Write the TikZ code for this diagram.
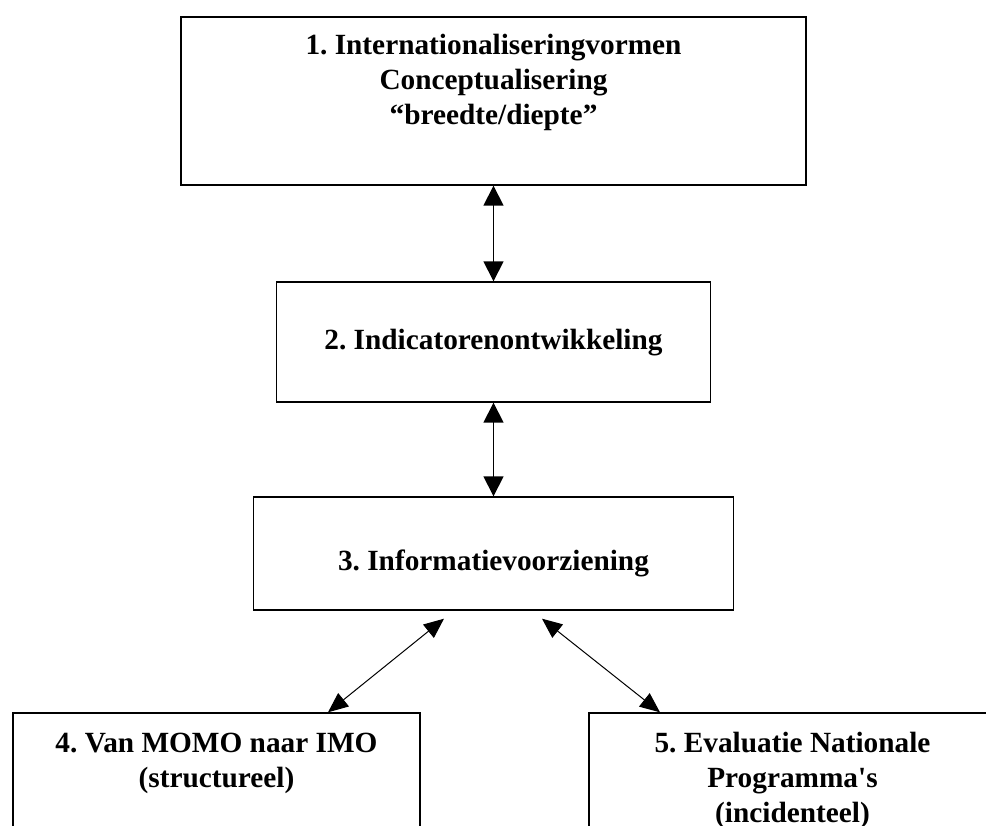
\documentclass[tikz,border=0pt]{standalone}
\usepackage{fontspec}
\setmainfont{Liberation Serif}[Ligatures=TeXOff]
\usetikzlibrary{arrows.meta}
\newcommand{\stagetext}[4]{\parbox[c][#2][t]{#1}{\centering\frenchspacing\rule{0pt}{#3}#4}}

\begin{document}
\begin{tikzpicture}[x=1pt,y=-1pt,
    stage/.style={draw, line width=1.4pt, inner sep=0pt,
      font=\fontsize{29.3}{35}\selectfont\bfseries},
    link/.style={{Triangle[length=20pt,width=20pt]}-{Triangle[length=20pt,width=20pt]},
      line width=1.6pt},
    sidelink/.style={{Triangle[length=20pt,width=17pt]}-{Triangle[length=20pt,width=17pt]},
      line width=1pt}]
  \path[use as bounding box, clip] (0,0) rectangle (986,826);
  \node[stage] (stage1) at (493.5,101)
    {\stagetext{625pt}{168pt}{38pt}{1. Internationaliseringvormen\\ Conceptualisering\\ “breedte/diepte”}};
  \node[stage] (stage2) at (493.5,342)
    {\stagetext{434pt}{120pt}{68pt}{2. Indicatorenontwikkeling}};
  \node[stage] (stage3) at (493.5,553.5)
    {\stagetext{480pt}{113pt}{73pt}{3. Informatievoorziening}};
  \node[stage] (stage4) at (216.5,791.5)
    {\stagetext{407pt}{157pt}{39pt}{4. Van MOMO naar IMO\\ (structureel)}};
  \node[stage] (stage5) at (792.5,791.5)
    {\stagetext{407pt}{157pt}{39pt}{5. Evaluatie Nationale\\ Programma's\\ (incidenteel)}};
  % verbindingen
  \draw[link] (stage1.south) -- (stage2.north);
  \draw[link] (stage2.south) -- (stage3.north);
  \draw[sidelink] ([xshift=-49.5pt,yshift=-8pt]stage3.south) -- ([xshift=111.5pt]stage4.north);
  \draw[sidelink] ([xshift=48.5pt,yshift=-8pt]stage3.south) -- ([xshift=-132.5pt]stage5.north);
\end{tikzpicture}
\end{document}
